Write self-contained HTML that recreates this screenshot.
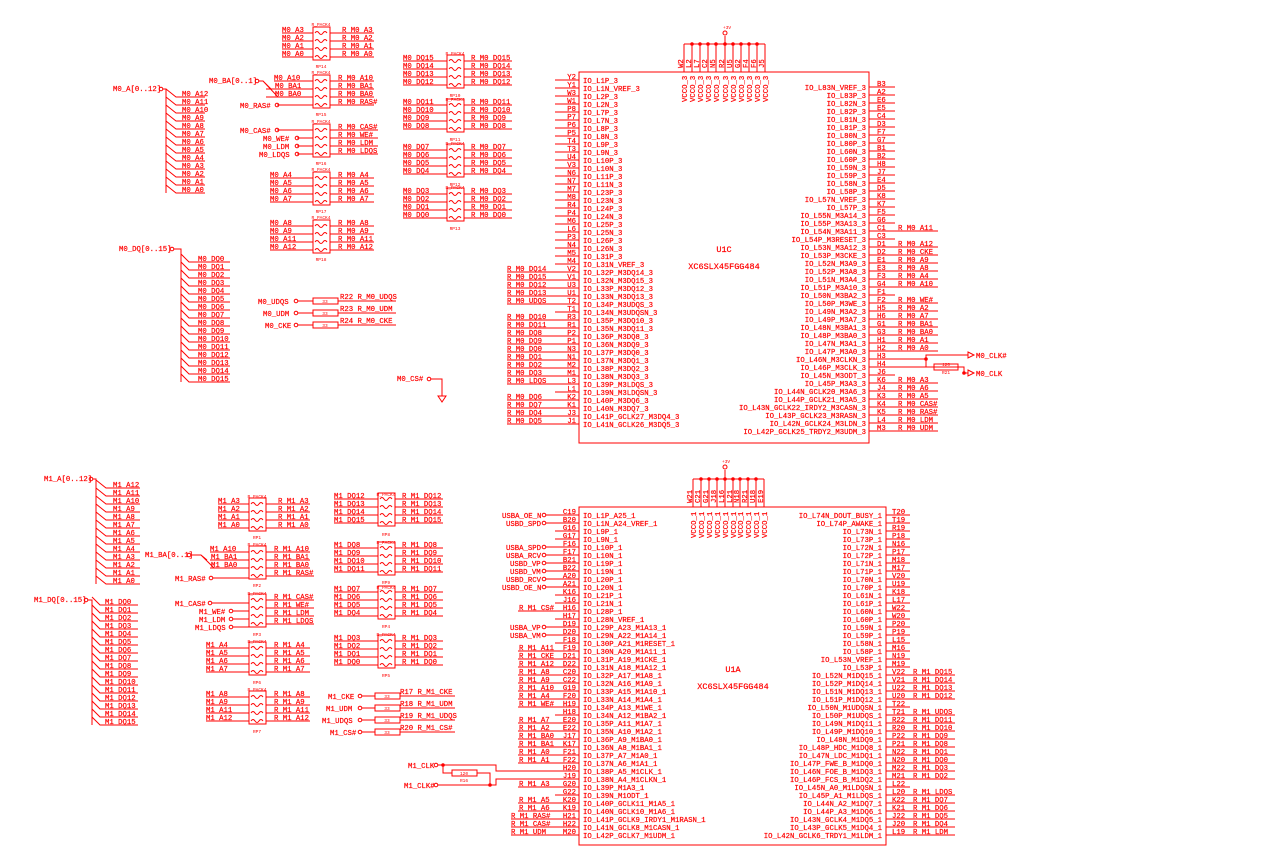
<!DOCTYPE html>
<html><head><meta charset="utf-8"><style>
html,body{margin:0;padding:0;background:#fff;}
svg{display:block}
text{font-family:"Liberation Mono",monospace;font-size:7.3px;fill:#f00;stroke:#f00;stroke-width:0.2}
.s{font-size:4.5px;stroke-width:0}
.e{text-anchor:end}
.m{text-anchor:middle}
path,line,rect,circle,polyline{stroke:#f00;stroke-width:1;fill:none}
.d{fill:#f00}
</style></head><body>
<svg width="1280" height="850" viewBox="0 0 1280 850" xmlns="http://www.w3.org/2000/svg">
<defs>
<g id="rp"><rect x="0" y="-3" width="17" height="33"/><path d="M2 3 q2-3 4 0 q2 3 4 0 q2-3 4 0 M2 11 q2-3 4 0 q2 3 4 0 q2-3 4 0 M2 19 q2-3 4 0 q2 3 4 0 q2-3 4 0 M2 27 q2-3 4 0 q2 3 4 0 q2-3 4 0"/></g>
</defs>

<!-- ================= M0 bus A ================= -->
<text x="113" y="91">M0_A[0..12]</text><circle cx="161" cy="89" r="1.8"/>
<path d="M163 89H166V193"/>
<path d="M166 89l10 8H205M166 97l10 8H205M166 105l10 8H205M166 113l10 8H205M166 121l10 8H205M166 129l10 8H205M166 137l10 8H205M166 145l10 8H205M166 153l10 8H205M166 161l10 8H205M166 169l10 8H205M166 177l10 8H205M166 185l10 8H205"/>
<text x="182" y="96">M0_A12</text><text x="182" y="104">M0_A11</text><text x="182" y="112">M0_A10</text><text x="182" y="120">M0_A9</text><text x="182" y="128">M0_A8</text><text x="182" y="136">M0_A7</text><text x="182" y="144">M0_A6</text><text x="182" y="152">M0_A5</text><text x="182" y="160">M0_A4</text><text x="182" y="168">M0_A3</text><text x="182" y="176">M0_A2</text><text x="182" y="184">M0_A1</text><text x="182" y="192">M0_A0</text>

<!-- M0 DQ bus -->
<text x="119" y="251">M0_DQ[0..15]</text><circle cx="172" cy="249" r="1.8"/>
<path d="M174 249H181V382"/>
<path d="M181 254l8 8H230M181 262l8 8H230M181 270l8 8H230M181 278l8 8H230M181 286l8 8H230M181 294l8 8H230M181 302l8 8H230M181 310l8 8H230M181 318l8 8H230M181 326l8 8H230M181 334l8 8H230M181 342l8 8H230M181 350l8 8H230M181 358l8 8H230M181 366l8 8H230M181 374l8 8H230"/>
<text x="198" y="261">M0_DQ0</text><text x="198" y="269">M0_DQ1</text><text x="198" y="277">M0_DQ2</text><text x="198" y="285">M0_DQ3</text><text x="198" y="293">M0_DQ4</text><text x="198" y="301">M0_DQ5</text><text x="198" y="309">M0_DQ6</text><text x="198" y="317">M0_DQ7</text><text x="198" y="325">M0_DQ8</text><text x="198" y="333">M0_DQ9</text><text x="198" y="341">M0_DQ10</text><text x="198" y="349">M0_DQ11</text><text x="198" y="357">M0_DQ12</text><text x="198" y="365">M0_DQ13</text><text x="198" y="373">M0_DQ14</text><text x="198" y="381">M0_DQ15</text>

<!-- RP14 -->
<use href="#rp" x="313" y="30"/><text class="s m" x="321" y="26">R_PACK4</text><text class="s m" x="321" y="68">RP14</text>
<path d="M282 33H313M282 41H313M282 49H313M282 57H313M330 33H374M330 41H374M330 49H374M330 57H374"/>
<text x="282" y="32">M0_A3</text><text x="282" y="40">M0_A2</text><text x="282" y="48">M0_A1</text><text x="282" y="56">M0_A0</text>
<text x="342" y="32">R_M0_A3</text><text x="342" y="40">R_M0_A2</text><text x="342" y="48">R_M0_A1</text><text x="342" y="56">R_M0_A0</text>
<!-- RP15 -->
<use href="#rp" x="313" y="78"/><text class="s m" x="321" y="74">R_PACK4</text><text class="s m" x="321" y="116">RP15</text>
<path d="M274 81H313M266 89H313M266 97H313M277 105H313M330 81H374M330 89H374M330 97H374M330 105H374M259 81H263L278 97M263 81l8 8"/>
<text x="209" y="83">M0_BA[0..1]</text><circle cx="257" cy="81" r="1.8"/>
<text x="274" y="80">M0_A10</text><text x="275" y="88">M0_BA1</text><text x="275" y="96">M0_BA0</text>
<text x="240" y="108">M0_RAS#</text><circle cx="277" cy="105" r="1.8"/>
<text x="338" y="80">R_M0_A10</text><text x="338" y="88">R_M0_BA1</text><text x="338" y="96">R_M0_BA0</text><text x="338" y="104">R_M0_RAS#</text>
<!-- RP16 -->
<use href="#rp" x="313" y="127"/><text class="s m" x="321" y="123">R_PACK4</text><text class="s m" x="321" y="165">RP16</text>
<path d="M277 130H313M297 138H313M297 146H313M297 154H313M330 130H378M330 138H378M330 146H378M330 154H378"/>
<text x="240" y="133">M0_CAS#</text><circle cx="277" cy="130" r="1.8"/>
<text x="263" y="141">M0_WE#</text><circle cx="297" cy="138" r="1.8"/>
<text x="263" y="149">M0_LDM</text><circle cx="297" cy="146" r="1.8"/>
<text x="259" y="157">M0_LDQS</text><circle cx="297" cy="154" r="1.8"/>
<text x="338" y="129">R_M0_CAS#</text><text x="338" y="137">R_M0_WE#</text><text x="338" y="145">R_M0_LDM</text><text x="338" y="153">R_M0_LDQS</text>
<!-- RP17 -->
<use href="#rp" x="313" y="175"/><text class="s m" x="321" y="171">R_PACK4</text><text class="s m" x="321" y="213">RP17</text>
<path d="M270 178H313M270 186H313M270 194H313M270 202H313M330 178H374M330 186H374M330 194H374M330 202H374"/>
<text x="270" y="177">M0_A4</text><text x="270" y="185">M0_A5</text><text x="270" y="193">M0_A6</text><text x="270" y="201">M0_A7</text>
<text x="338" y="177">R_M0_A4</text><text x="338" y="185">R_M0_A5</text><text x="338" y="193">R_M0_A6</text><text x="338" y="201">R_M0_A7</text>
<!-- RP18 -->
<use href="#rp" x="313" y="223"/><text class="s m" x="321" y="219">R_PACK4</text><text class="s m" x="321" y="261">RP18</text>
<path d="M270 226H313M270 234H313M270 242H313M270 250H313M330 226H374M330 234H374M330 242H374M330 250H374"/>
<text x="270" y="225">M0_A8</text><text x="270" y="233">M0_A9</text><text x="270" y="241">M0_A11</text><text x="270" y="249">M0_A12</text>
<text x="338" y="225">R_M0_A8</text><text x="338" y="233">R_M0_A9</text><text x="338" y="241">R_M0_A11</text><text x="338" y="249">R_M0_A12</text>

<!-- RP10..RP13 -->
<use href="#rp" x="447" y="58"/><text class="s m" x="455" y="55">R_PACK4</text><text class="s m" x="455" y="97">RP10</text>
<path d="M403 61H447M403 69H447M403 77H447M403 85H447M464 61H512M464 69H512M464 77H512M464 85H512"/>
<text x="403" y="60">M0_DQ15</text><text x="403" y="68">M0_DQ14</text><text x="403" y="76">M0_DQ13</text><text x="403" y="84">M0_DQ12</text>
<text x="471" y="60">R_M0_DQ15</text><text x="471" y="68">R_M0_DQ14</text><text x="471" y="76">R_M0_DQ13</text><text x="471" y="84">R_M0_DQ12</text>
<use href="#rp" x="447" y="102"/><text class="s m" x="455" y="101">R_PACK4</text><text class="s m" x="455" y="141">RP11</text>
<path d="M403 105H447M403 113H447M403 121H447M403 129H447M464 105H512M464 113H512M464 121H512M464 129H512"/>
<text x="403" y="104">M0_DQ11</text><text x="403" y="112">M0_DQ10</text><text x="403" y="120">M0_DQ9</text><text x="403" y="128">M0_DQ8</text>
<text x="471" y="104">R_M0_DQ11</text><text x="471" y="112">R_M0_DQ10</text><text x="471" y="120">R_M0_DQ9</text><text x="471" y="128">R_M0_DQ8</text>
<use href="#rp" x="447" y="147"/><text class="s m" x="455" y="145">R_PACK4</text><text class="s m" x="455" y="186">RP12</text>
<path d="M403 150H447M403 158H447M403 166H447M403 174H447M464 150H512M464 158H512M464 166H512M464 174H512"/>
<text x="403" y="149">M0_DQ7</text><text x="403" y="157">M0_DQ6</text><text x="403" y="165">M0_DQ5</text><text x="403" y="173">M0_DQ4</text>
<text x="471" y="149">R_M0_DQ7</text><text x="471" y="157">R_M0_DQ6</text><text x="471" y="165">R_M0_DQ5</text><text x="471" y="173">R_M0_DQ4</text>
<use href="#rp" x="447" y="191"/><text class="s m" x="455" y="189">R_PACK4</text><text class="s m" x="455" y="230">RP13</text>
<path d="M403 194H447M403 202H447M403 210H447M403 218H447M464 194H512M464 202H512M464 210H512M464 218H512"/>
<text x="403" y="193">M0_DQ3</text><text x="403" y="201">M0_DQ2</text><text x="403" y="209">M0_DQ1</text><text x="403" y="217">M0_DQ0</text>
<text x="471" y="193">R_M0_DQ3</text><text x="471" y="201">R_M0_DQ2</text><text x="471" y="209">R_M0_DQ1</text><text x="471" y="217">R_M0_DQ0</text>

<!-- R22-24 -->
<path d="M298 301H313M338 301H396M298 313H313M338 313H396M298 325H313M338 325H396"/>
<rect x="313" y="298" width="25" height="6"/><rect x="313" y="310" width="25" height="6"/><rect x="313" y="322" width="25" height="6"/>
<text class="s m" x="325" y="303">33</text><text class="s m" x="325" y="315">33</text><text class="s m" x="325" y="327">33</text>
<text x="258" y="304">M0_UDQS</text><circle cx="296" cy="301" r="1.8"/>
<text x="263" y="316">M0_UDM</text><circle cx="296" cy="313" r="1.8"/>
<text x="265" y="328">M0_CKE</text><circle cx="296" cy="325" r="1.8"/>
<text x="340" y="299">R22 R_M0_UDQS</text><text x="340" y="311">R23 R_M0_UDM</text><text x="340" y="323">R24 R_M0_CKE</text>
<text x="397" y="381">M0_CS#</text><circle cx="429" cy="379" r="1.8"/>
<path d="M431 379H442V396M438 396H446L442 402Z"/>

<!-- ================= U1C ================= -->
<rect x="579" y="72" width="290" height="371"/>
<path d="M684 44H765M684 44V72M692 44V72M700 44V72M708 44V72M716 44V72M725 44V72M733 44V72M741 44V72M749 44V72M757 44V72M765 44V72M725 44V36"/>
<circle cx="725" cy="33" r="2"/><text class="s" x="723" y="29">+3V</text>
<circle class="d" cx="692" cy="44" r="1.3"/><circle class="d" cx="700" cy="44" r="1.3"/><circle class="d" cx="708" cy="44" r="1.3"/><circle class="d" cx="716" cy="44" r="1.3"/><circle class="d" cx="725" cy="44" r="1.3"/><circle class="d" cx="733" cy="44" r="1.3"/><circle class="d" cx="741" cy="44" r="1.3"/><circle class="d" cx="749" cy="44" r="1.3"/><circle class="d" cx="757" cy="44" r="1.3"/>
<text transform="translate(683,68) rotate(-90)">W2</text><text transform="translate(691,68) rotate(-90)">L2</text><text transform="translate(699,68) rotate(-90)">L7</text><text transform="translate(707,68) rotate(-90)">C2</text><text transform="translate(715,68) rotate(-90)">N5</text><text transform="translate(724,68) rotate(-90)">R2</text><text transform="translate(732,68) rotate(-90)">U5</text><text transform="translate(740,68) rotate(-90)">G2</text><text transform="translate(748,68) rotate(-90)">F4</text><text transform="translate(756,68) rotate(-90)">F6</text><text transform="translate(764,68) rotate(-90)">J5</text>
<text transform="translate(687,102) rotate(-90)">VCCO_3</text><text transform="translate(695,102) rotate(-90)">VCCO_3</text><text transform="translate(703,102) rotate(-90)">VCCO_3</text><text transform="translate(711,102) rotate(-90)">VCCO_3</text><text transform="translate(719,102) rotate(-90)">VCCO_3</text><text transform="translate(728,102) rotate(-90)">VCCO_3</text><text transform="translate(736,102) rotate(-90)">VCCO_3</text><text transform="translate(744,102) rotate(-90)">VCCO_3</text><text transform="translate(752,102) rotate(-90)">VCCO_3</text><text transform="translate(760,102) rotate(-90)">VCCO_3</text><text transform="translate(768,102) rotate(-90)">VCCO_3</text>
<text class="m" x="724" y="252" style="font-size:8.5px">U1C</text><text class="m" x="724" y="269" style="font-size:8.5px">XC6SLX45FGG484</text>

<!-- U1C left pins -->
<path d="M555 80H579M555 88H579M555 96H579M555 104H579M555 112H579M555 120H579M555 128H579M555 136H579M555 144H579M555 152H579M555 160H579M555 168H579M555 176H579M555 184H579M555 192H579M555 200H579M555 208H579M555 216H579M555 224H579M555 232H579M555 240H579M555 248H579M555 256H579M555 264H579M507 272H579M507 280H579M507 288H579M507 296H579M507 304H579M555 312H579M507 320H579M507 328H579M507 336H579M507 344H579M507 352H579M507 360H579M507 368H579M507 376H579M507 384H579M555 392H579M507 400H579M507 408H579M507 416H579M507 424H579"/>
<text class="e" x="576" y="79">Y2</text><text class="e" x="576" y="87">Y1</text><text class="e" x="576" y="95">W3</text><text class="e" x="576" y="103">W1</text><text class="e" x="576" y="111">P8</text><text class="e" x="576" y="119">P7</text><text class="e" x="576" y="127">P6</text><text class="e" x="576" y="135">P5</text><text class="e" x="576" y="143">T4</text><text class="e" x="576" y="151">T3</text><text class="e" x="576" y="159">U4</text><text class="e" x="576" y="167">V3</text><text class="e" x="576" y="175">N6</text><text class="e" x="576" y="183">N7</text><text class="e" x="576" y="191">M7</text><text class="e" x="576" y="199">M8</text><text class="e" x="576" y="207">R4</text><text class="e" x="576" y="215">P4</text><text class="e" x="576" y="223">M6</text><text class="e" x="576" y="231">L6</text><text class="e" x="576" y="239">P3</text><text class="e" x="576" y="247">N4</text><text class="e" x="576" y="255">M5</text><text class="e" x="576" y="263">M4</text><text class="e" x="576" y="271">V2</text><text class="e" x="576" y="279">V1</text><text class="e" x="576" y="287">U3</text><text class="e" x="576" y="295">U1</text><text class="e" x="576" y="303">T2</text><text class="e" x="576" y="311">T1</text><text class="e" x="576" y="319">R3</text><text class="e" x="576" y="327">R1</text><text class="e" x="576" y="335">P2</text><text class="e" x="576" y="343">P1</text><text class="e" x="576" y="351">N3</text><text class="e" x="576" y="359">N1</text><text class="e" x="576" y="367">M2</text><text class="e" x="576" y="375">M1</text><text class="e" x="576" y="383">L3</text><text class="e" x="576" y="391">L1</text><text class="e" x="576" y="399">K2</text><text class="e" x="576" y="407">K1</text><text class="e" x="576" y="415">J3</text><text class="e" x="576" y="423">J1</text>
<text x="583" y="83">IO_L1P_3</text><text x="583" y="91">IO_L1N_VREF_3</text><text x="583" y="99">IO_L2P_3</text><text x="583" y="107">IO_L2N_3</text><text x="583" y="115">IO_L7P_3</text><text x="583" y="123">IO_L7N_3</text><text x="583" y="131">IO_L8P_3</text><text x="583" y="139">IO_L8N_3</text><text x="583" y="147">IO_L9P_3</text><text x="583" y="155">IO_L9N_3</text><text x="583" y="163">IO_L10P_3</text><text x="583" y="171">IO_L10N_3</text><text x="583" y="179">IO_L11P_3</text><text x="583" y="187">IO_L11N_3</text><text x="583" y="195">IO_L23P_3</text><text x="583" y="203">IO_L23N_3</text><text x="583" y="211">IO_L24P_3</text><text x="583" y="219">IO_L24N_3</text><text x="583" y="227">IO_L25P_3</text><text x="583" y="235">IO_L25N_3</text><text x="583" y="243">IO_L26P_3</text><text x="583" y="251">IO_L26N_3</text><text x="583" y="259">IO_L31P_3</text><text x="583" y="267">IO_L31N_VREF_3</text><text x="583" y="275">IO_L32P_M3DQ14_3</text><text x="583" y="283">IO_L32N_M3DQ15_3</text><text x="583" y="291">IO_L33P_M3DQ12_3</text><text x="583" y="299">IO_L33N_M3DQ13_3</text><text x="583" y="307">IO_L34P_M3UDQS_3</text><text x="583" y="315">IO_L34N_M3UDQSN_3</text><text x="583" y="323">IO_L35P_M3DQ10_3</text><text x="583" y="331">IO_L35N_M3DQ11_3</text><text x="583" y="339">IO_L36P_M3DQ8_3</text><text x="583" y="347">IO_L36N_M3DQ9_3</text><text x="583" y="355">IO_L37P_M3DQ0_3</text><text x="583" y="363">IO_L37N_M3DQ1_3</text><text x="583" y="371">IO_L38P_M3DQ2_3</text><text x="583" y="379">IO_L38N_M3DQ3_3</text><text x="583" y="387">IO_L39P_M3LDQS_3</text><text x="583" y="395">IO_L39N_M3LDQSN_3</text><text x="583" y="403">IO_L40P_M3DQ6_3</text><text x="583" y="411">IO_L40N_M3DQ7_3</text><text x="583" y="419">IO_L41P_GCLK27_M3DQ4_3</text><text x="583" y="427">IO_L41N_GCLK26_M3DQ5_3</text>
<text x="507" y="271">R_M0_DQ14</text><text x="507" y="279">R_M0_DQ15</text><text x="507" y="287">R_M0_DQ12</text><text x="507" y="295">R_M0_DQ13</text><text x="507" y="303">R_M0_UDQS</text><text x="507" y="319">R_M0_DQ10</text><text x="507" y="327">R_M0_DQ11</text><text x="507" y="335">R_M0_DQ8</text><text x="507" y="343">R_M0_DQ9</text><text x="507" y="351">R_M0_DQ0</text><text x="507" y="359">R_M0_DQ1</text><text x="507" y="367">R_M0_DQ2</text><text x="507" y="375">R_M0_DQ3</text><text x="507" y="383">R_M0_LDQS</text><text x="507" y="399">R_M0_DQ6</text><text x="507" y="407">R_M0_DQ7</text><text x="507" y="415">R_M0_DQ4</text><text x="507" y="423">R_M0_DQ5</text>

<!-- U1C right pins -->
<path d="M869 87H895M869 95H895M869 103H895M869 111H895M869 119H895M869 127H895M869 135H895M869 143H895M869 151H895M869 159H895M869 167H895M869 175H895M869 183H895M869 191H895M869 199H895M869 207H895M869 215H895M869 223H895M869 231H938M869 239H895M869 247H938M869 255H938M869 263H938M869 271H938M869 279H938M869 287H938M869 295H895M869 303H938M869 311H938M869 319H938M869 327H938M869 335H938M869 343H938M869 351H938M869 359H926V355H968M869 367H964V373H968M869 375H895M869 383H938M869 391H938M869 399H938M869 407H938M869 415H938M869 423H938M869 431H938"/>
<path d="M926 359V367H934M958 367H964"/><rect x="934" y="364" width="24" height="6"/><text class="s m" x="946" y="366">120</text><text class="s m" x="946" y="374">R21</text>
<circle class="d" cx="926" cy="359" r="1.3"/><circle class="d" cx="964" cy="373" r="1.3"/>
<path d="M968 352L974 355L968 358ZM968 370L974 373L968 376Z"/>
<text x="976" y="358">M0_CLK#</text><text x="976" y="376">M0_CLK</text>
<text x="877" y="86">B3</text><text x="877" y="94">A2</text><text x="877" y="102">E6</text><text x="877" y="110">E5</text><text x="877" y="118">C4</text><text x="877" y="126">D3</text><text x="877" y="134">F7</text><text x="877" y="142">G7</text><text x="877" y="150">B1</text><text x="877" y="158">B2</text><text x="877" y="166">H8</text><text x="877" y="174">J7</text><text x="877" y="182">E4</text><text x="877" y="190">D5</text><text x="877" y="198">K8</text><text x="877" y="206">K7</text><text x="877" y="214">F5</text><text x="877" y="222">G6</text><text x="877" y="230">C1</text><text x="877" y="238">C3</text><text x="877" y="246">D1</text><text x="877" y="254">D2</text><text x="877" y="262">E1</text><text x="877" y="270">E3</text><text x="877" y="278">F3</text><text x="877" y="286">G4</text><text x="877" y="294">F1</text><text x="877" y="302">F2</text><text x="877" y="310">H5</text><text x="877" y="318">H6</text><text x="877" y="326">G1</text><text x="877" y="334">G3</text><text x="877" y="342">H1</text><text x="877" y="350">H2</text><text x="877" y="358">H3</text><text x="877" y="366">H4</text><text x="877" y="374">J6</text><text x="877" y="382">K6</text><text x="877" y="390">J4</text><text x="877" y="398">K3</text><text x="877" y="406">K4</text><text x="877" y="414">K5</text><text x="877" y="422">L4</text><text x="877" y="430">M3</text>
<text class="e" x="866" y="90">IO_L83N_VREF_3</text><text class="e" x="866" y="98">IO_L83P_3</text><text class="e" x="866" y="106">IO_L82N_3</text><text class="e" x="866" y="114">IO_L82P_3</text><text class="e" x="866" y="122">IO_L81N_3</text><text class="e" x="866" y="130">IO_L81P_3</text><text class="e" x="866" y="138">IO_L80N_3</text><text class="e" x="866" y="146">IO_L80P_3</text><text class="e" x="866" y="154">IO_L60N_3</text><text class="e" x="866" y="162">IO_L60P_3</text><text class="e" x="866" y="170">IO_L59N_3</text><text class="e" x="866" y="178">IO_L59P_3</text><text class="e" x="866" y="186">IO_L58N_3</text><text class="e" x="866" y="194">IO_L58P_3</text><text class="e" x="866" y="202">IO_L57N_VREF_3</text><text class="e" x="866" y="210">IO_L57P_3</text><text class="e" x="866" y="218">IO_L55N_M3A14_3</text><text class="e" x="866" y="226">IO_L55P_M3A13_3</text><text class="e" x="866" y="234">IO_L54N_M3A11_3</text><text class="e" x="866" y="242">IO_L54P_M3RESET_3</text><text class="e" x="866" y="250">IO_L53N_M3A12_3</text><text class="e" x="866" y="258">IO_L53P_M3CKE_3</text><text class="e" x="866" y="266">IO_L52N_M3A9_3</text><text class="e" x="866" y="274">IO_L52P_M3A8_3</text><text class="e" x="866" y="282">IO_L51N_M3A4_3</text><text class="e" x="866" y="290">IO_L51P_M3A10_3</text><text class="e" x="866" y="298">IO_L50N_M3BA2_3</text><text class="e" x="866" y="306">IO_L50P_M3WE_3</text><text class="e" x="866" y="314">IO_L49N_M3A2_3</text><text class="e" x="866" y="322">IO_L49P_M3A7_3</text><text class="e" x="866" y="330">IO_L48N_M3BA1_3</text><text class="e" x="866" y="338">IO_L48P_M3BA0_3</text><text class="e" x="866" y="346">IO_L47N_M3A1_3</text><text class="e" x="866" y="354">IO_L47P_M3A0_3</text><text class="e" x="866" y="362">IO_L46N_M3CLKN_3</text><text class="e" x="866" y="370">IO_L46P_M3CLK_3</text><text class="e" x="866" y="378">IO_L45N_M3ODT_3</text><text class="e" x="866" y="386">IO_L45P_M3A3_3</text><text class="e" x="866" y="394">IO_L44N_GCLK20_M3A6_3</text><text class="e" x="866" y="402">IO_L44P_GCLK21_M3A5_3</text><text class="e" x="866" y="410">IO_L43N_GCLK22_IRDY2_M3CASN_3</text><text class="e" x="866" y="418">IO_L43P_GCLK23_M3RASN_3</text><text class="e" x="866" y="426">IO_L42N_GCLK24_M3LDN_3</text><text class="e" x="866" y="434">IO_L42P_GCLK25_TRDY2_M3UDM_3</text>
<text x="898" y="230">R_M0_A11</text><text x="898" y="246">R_M0_A12</text><text x="898" y="254">R_M0_CKE</text><text x="898" y="262">R_M0_A9</text><text x="898" y="270">R_M0_A8</text><text x="898" y="278">R_M0_A4</text><text x="898" y="286">R_M0_A10</text><text x="898" y="302">R_M0_WE#</text><text x="898" y="310">R_M0_A2</text><text x="898" y="318">R_M0_A7</text><text x="898" y="326">R_M0_BA1</text><text x="898" y="334">R_M0_BA0</text><text x="898" y="342">R_M0_A1</text><text x="898" y="350">R_M0_A0</text><text x="898" y="382">R_M0_A3</text><text x="898" y="390">R_M0_A6</text><text x="898" y="398">R_M0_A5</text><text x="898" y="406">R_M0_CAS#</text><text x="898" y="414">R_M0_RAS#</text><text x="898" y="422">R_M0_LDM</text><text x="898" y="430">R_M0_UDM</text>

<!-- ================= M1 left ================= -->
<text x="44" y="481">M1_A[0..12]</text><circle cx="91" cy="479" r="1.8"/>
<path d="M93 479H96V584"/>
<path d="M96 480l10 8H140M96 488l10 8H140M96 496l10 8H140M96 504l10 8H140M96 512l10 8H140M96 520l10 8H140M96 528l10 8H140M96 536l10 8H140M96 544l10 8H140M96 552l10 8H140M96 560l10 8H140M96 568l10 8H140M96 576l10 8H140"/>
<text x="113" y="487">M1_A12</text><text x="113" y="495">M1_A11</text><text x="113" y="503">M1_A10</text><text x="113" y="511">M1_A9</text><text x="113" y="519">M1_A8</text><text x="113" y="527">M1_A7</text><text x="113" y="535">M1_A6</text><text x="113" y="543">M1_A5</text><text x="113" y="551">M1_A4</text><text x="113" y="559">M1_A3</text><text x="113" y="567">M1_A2</text><text x="113" y="575">M1_A1</text><text x="113" y="583">M1_A0</text>
<text x="34" y="602">M1_DQ[0..15]</text><circle cx="86" cy="600" r="1.8"/>
<path d="M88 600H92V725"/>
<path d="M92 597l8 8H138M92 605l8 8H138M92 613l8 8H138M92 621l8 8H138M92 629l8 8H138M92 637l8 8H138M92 645l8 8H138M92 653l8 8H138M92 661l8 8H138M92 669l8 8H138M92 677l8 8H138M92 685l8 8H138M92 693l8 8H138M92 701l8 8H138M92 709l8 8H138M92 717l8 8H138"/>
<text x="105" y="604">M1_DQ0</text><text x="105" y="612">M1_DQ1</text><text x="105" y="620">M1_DQ2</text><text x="105" y="628">M1_DQ3</text><text x="105" y="636">M1_DQ4</text><text x="105" y="644">M1_DQ5</text><text x="105" y="652">M1_DQ6</text><text x="105" y="660">M1_DQ7</text><text x="105" y="668">M1_DQ8</text><text x="105" y="676">M1_DQ9</text><text x="105" y="684">M1_DQ10</text><text x="105" y="692">M1_DQ11</text><text x="105" y="700">M1_DQ12</text><text x="105" y="708">M1_DQ13</text><text x="105" y="716">M1_DQ14</text><text x="105" y="724">M1_DQ15</text>

<!-- RP1 -->
<use href="#rp" x="249" y="501"/><text class="s m" x="257" y="498">R_PACK4</text><text class="s m" x="257" y="539">RP1</text>
<path d="M218 504H249M218 512H249M218 520H249M218 528H249M266 504H310M266 512H310M266 520H310M266 528H310"/>
<text x="218" y="503">M1_A3</text><text x="218" y="511">M1_A2</text><text x="218" y="519">M1_A1</text><text x="218" y="527">M1_A0</text>
<text x="278" y="503">R_M1_A3</text><text x="278" y="511">R_M1_A2</text><text x="278" y="519">R_M1_A1</text><text x="278" y="527">R_M1_A0</text>
<!-- RP2 -->
<use href="#rp" x="249" y="549"/><text class="s m" x="257" y="546">R_PACK4</text><text class="s m" x="257" y="587">RP2</text>
<path d="M210 552H249M210 560H249M210 568H249M213 578H249M266 552H310M266 560H310M266 568H310M266 576H314M191 555H201L214 568M201 555l6 5"/>
<text x="145" y="557">M1_BA[0..1]</text><circle cx="189" cy="555" r="1.8"/>
<text x="210" y="551">M1_A10</text><text x="211" y="559">M1_BA1</text><text x="211" y="567">M1_BA0</text>
<text x="175" y="581">M1_RAS#</text><circle cx="211" cy="578" r="1.8"/>
<text x="274" y="551">R_M1_A10</text><text x="274" y="559">R_M1_BA1</text><text x="274" y="567">R_M1_BA0</text><text x="274" y="575">R_M1_RAS#</text>
<!-- RP3 -->
<use href="#rp" x="249" y="597"/><text class="s m" x="257" y="595">R_PACK4</text><text class="s m" x="257" y="636">RP3</text>
<path d="M212 603H249M233 611H249M233 619H249M233 627H249M266 600H314M266 608H314M266 616H314M266 624H314"/>
<text x="175" y="606">M1_CAS#</text><circle cx="210" cy="603" r="1.8"/>
<text x="199" y="614">M1_WE#</text><circle cx="231" cy="611" r="1.8"/>
<text x="199" y="622">M1_LDM</text><circle cx="231" cy="619" r="1.8"/>
<text x="195" y="630">M1_LDQS</text><circle cx="231" cy="627" r="1.8"/>
<text x="274" y="599">R_M1_CAS#</text><text x="274" y="607">R_M1_WE#</text><text x="274" y="615">R_M1_LDM</text><text x="274" y="623">R_M1_LDQS</text>
<!-- RP6 -->
<use href="#rp" x="249" y="645"/><text class="s m" x="257" y="643">R_PACK4</text><text class="s m" x="257" y="684">RP6</text>
<path d="M206 648H249M206 656H249M206 664H249M206 672H249M266 648H310M266 656H310M266 664H310M266 672H310"/>
<text x="206" y="647">M1_A4</text><text x="206" y="655">M1_A5</text><text x="206" y="663">M1_A6</text><text x="206" y="671">M1_A7</text>
<text x="274" y="647">R_M1_A4</text><text x="274" y="655">R_M1_A5</text><text x="274" y="663">R_M1_A6</text><text x="274" y="671">R_M1_A7</text>
<!-- RP7 -->
<use href="#rp" x="249" y="694"/><text class="s m" x="257" y="691">R_PACK4</text><text class="s m" x="257" y="733">RP7</text>
<path d="M206 697H249M206 705H249M206 713H249M206 721H249M266 697H310M266 705H310M266 713H310M266 721H310"/>
<text x="206" y="696">M1_A8</text><text x="206" y="704">M1_A9</text><text x="206" y="712">M1_A11</text><text x="206" y="720">M1_A12</text>
<text x="274" y="696">R_M1_A8</text><text x="274" y="704">R_M1_A9</text><text x="274" y="712">R_M1_A11</text><text x="274" y="720">R_M1_A12</text>

<!-- RP8,9,4,5 -->
<use href="#rp" x="378" y="496"/><text class="s m" x="386" y="496">R_PACK4</text><text class="s m" x="386" y="536">RP8</text>
<path d="M334 499H378M334 507H378M334 515H378M334 523H378M395 499H443M395 507H443M395 515H443M395 523H443"/>
<text x="334" y="498">M1_DQ12</text><text x="334" y="506">M1_DQ13</text><text x="334" y="514">M1_DQ14</text><text x="334" y="522">M1_DQ15</text>
<text x="402" y="498">R_M1_DQ12</text><text x="402" y="506">R_M1_DQ13</text><text x="402" y="514">R_M1_DQ14</text><text x="402" y="522">R_M1_DQ15</text>
<use href="#rp" x="378" y="545"/><text class="s m" x="386" y="544">R_PACK4</text><text class="s m" x="386" y="584">RP9</text>
<path d="M334 548H378M334 556H378M334 564H378M334 572H378M395 548H443M395 556H443M395 564H443M395 572H443"/>
<text x="334" y="547">M1_DQ8</text><text x="334" y="555">M1_DQ9</text><text x="334" y="563">M1_DQ10</text><text x="334" y="571">M1_DQ11</text>
<text x="402" y="547">R_M1_DQ8</text><text x="402" y="555">R_M1_DQ9</text><text x="402" y="563">R_M1_DQ10</text><text x="402" y="571">R_M1_DQ11</text>
<use href="#rp" x="378" y="589"/><text class="s m" x="386" y="589">R_PACK4</text><text class="s m" x="386" y="628">RP4</text>
<path d="M334 592H378M334 600H378M334 608H378M334 616H378M395 592H443M395 600H443M395 608H443M395 616H443"/>
<text x="334" y="591">M1_DQ7</text><text x="334" y="599">M1_DQ6</text><text x="334" y="607">M1_DQ5</text><text x="334" y="615">M1_DQ4</text>
<text x="402" y="591">R_M1_DQ7</text><text x="402" y="599">R_M1_DQ6</text><text x="402" y="607">R_M1_DQ5</text><text x="402" y="615">R_M1_DQ4</text>
<use href="#rp" x="378" y="638"/><text class="s m" x="386" y="636">R_PACK4</text><text class="s m" x="386" y="677">RP5</text>
<path d="M334 641H378M334 649H378M334 657H378M334 665H378M395 641H443M395 649H443M395 657H443M395 665H443"/>
<text x="334" y="640">M1_DQ3</text><text x="334" y="648">M1_DQ2</text><text x="334" y="656">M1_DQ1</text><text x="334" y="664">M1_DQ0</text>
<text x="402" y="640">R_M1_DQ3</text><text x="402" y="648">R_M1_DQ2</text><text x="402" y="656">R_M1_DQ1</text><text x="402" y="664">R_M1_DQ0</text>
<!-- R17-20 -->
<path d="M362 696H375M400 696H455M362 708H375M400 708H455M362 720H375M400 720H455M362 732H375M400 732H455"/>
<rect x="375" y="693" width="25" height="6"/><rect x="375" y="705" width="25" height="6"/><rect x="375" y="717" width="25" height="6"/><rect x="375" y="729" width="25" height="6"/>
<text class="s m" x="387" y="698">33</text><text class="s m" x="387" y="710">33</text><text class="s m" x="387" y="722">33</text><text class="s m" x="387" y="734">33</text>
<text x="328" y="699">M1_CKE</text><circle cx="360" cy="696" r="1.8"/>
<text x="326" y="711">M1_UDM</text><circle cx="360" cy="708" r="1.8"/>
<text x="322" y="723">M1_UDQS</text><circle cx="360" cy="720" r="1.8"/>
<text x="330" y="735">M1_CS#</text><circle cx="360" cy="732" r="1.8"/>
<text x="400" y="694">R17 R_M1_CKE</text><text x="400" y="706">R18 R_M1_UDM</text><text x="400" y="718">R19 R_M1_UDQS</text><text x="400" y="730">R20 R_M1_CS#</text>

<!-- M1 CLK -->
<text x="408" y="768">M1_CLK</text><circle cx="436" cy="765" r="1.8"/>
<text x="404" y="788">M1_CLK#</text><circle cx="436" cy="785" r="1.8"/>
<path d="M438 765H496V771H579M438 785H496V779H579M443 765V773H452M477 773H490V785"/>
<rect x="452" y="770" width="25" height="6"/><text class="s m" x="464" y="775">120</text><text class="s m" x="464" y="782">R16</text>
<circle class="d" cx="443" cy="765" r="1.3"/><circle class="d" cx="490" cy="785" r="1.3"/>

<!-- ================= U1A ================= -->
<rect x="579" y="507" width="307" height="338"/>
<path d="M693 479H764M693 479V507M701 479V507M709 479V507M717 479V507M725 479V507M733 479V507M740 479V507M748 479V507M756 479V507M764 479V507M725 479V470"/>
<circle cx="725" cy="467" r="2"/><text class="s" x="722" y="463">+3V</text>
<circle class="d" cx="701" cy="479" r="1.3"/><circle class="d" cx="709" cy="479" r="1.3"/><circle class="d" cx="717" cy="479" r="1.3"/><circle class="d" cx="725" cy="479" r="1.3"/><circle class="d" cx="733" cy="479" r="1.3"/><circle class="d" cx="740" cy="479" r="1.3"/><circle class="d" cx="748" cy="479" r="1.3"/><circle class="d" cx="756" cy="479" r="1.3"/>
<text transform="translate(692,503) rotate(-90)">W21</text><text transform="translate(700,503) rotate(-90)">C21</text><text transform="translate(708,503) rotate(-90)">G21</text><text transform="translate(716,503) rotate(-90)">J18</text><text transform="translate(724,503) rotate(-90)">L16</text><text transform="translate(732,503) rotate(-90)">L21</text><text transform="translate(739,503) rotate(-90)">N18</text><text transform="translate(747,503) rotate(-90)">R21</text><text transform="translate(755,503) rotate(-90)">U18</text><text transform="translate(763,503) rotate(-90)">E19</text>
<text transform="translate(696,538) rotate(-90)">VCCO_1</text><text transform="translate(704,538) rotate(-90)">VCCO_1</text><text transform="translate(712,538) rotate(-90)">VCCO_1</text><text transform="translate(720,538) rotate(-90)">VCCO_1</text><text transform="translate(728,538) rotate(-90)">VCCO_1</text><text transform="translate(736,538) rotate(-90)">VCCO_1</text><text transform="translate(743,538) rotate(-90)">VCCO_1</text><text transform="translate(751,538) rotate(-90)">VCCO_1</text><text transform="translate(759,538) rotate(-90)">VCCO_1</text><text transform="translate(767,538) rotate(-90)">VCCO_1</text>
<text class="m" x="733" y="672" style="font-size:8.5px">U1A</text><text class="m" x="733" y="689" style="font-size:8.5px">XC6SLX45FGG484</text>

<!-- U1A left -->
<path d="M546 515H579M546 523H579M555 531H579M555 539H579M546 547H579M546 555H579M546 563H579M546 571H579M546 579H579M546 587H579M555 595H579M555 603H579M518 611H579M555 619H579M546 627H579M546 635H579M555 643H579M518 651H579M518 659H579M518 667H579M518 675H579M518 683H579M518 691H579M518 699H579M518 707H579M555 715H579M518 723H579M518 731H579M518 739H579M518 747H579M518 755H579M518 763H579M555 771H579M555 779H579M518 787H579M555 795H579M518 803H579M518 811H579M511 819H579M511 827H579M511 835H579"/>
<text x="502" y="518">USBA_OE_N</text><circle cx="544" cy="515" r="1.8"/>
<text x="506" y="526">USBD_SPD</text><circle cx="544" cy="523" r="1.8"/>
<text x="506" y="550">USBA_SPD</text><circle cx="544" cy="547" r="1.8"/>
<text x="506" y="558">USBA_RCV</text><circle cx="544" cy="555" r="1.8"/>
<text x="510" y="566">USBD_VP</text><circle cx="544" cy="563" r="1.8"/>
<text x="510" y="574">USBD_VM</text><circle cx="544" cy="571" r="1.8"/>
<text x="506" y="582">USBD_RCV</text><circle cx="544" cy="579" r="1.8"/>
<text x="502" y="590">USBD_OE_N</text><circle cx="544" cy="587" r="1.8"/>
<text x="510" y="630">USBA_VP</text><circle cx="544" cy="627" r="1.8"/>
<text x="510" y="638">USBA_VM</text><circle cx="544" cy="635" r="1.8"/>
<text x="519" y="610">R_M1_CS#</text>
<text x="519" y="650">R_M1_A11</text><text x="519" y="658">R_M1_CKE</text><text x="519" y="666">R_M1_A12</text><text x="519" y="674">R_M1_A8</text><text x="519" y="682">R_M1_A9</text><text x="519" y="690">R_M1_A10</text><text x="519" y="698">R_M1_A4</text><text x="519" y="706">R_M1_WE#</text><text x="519" y="722">R_M1_A7</text><text x="519" y="730">R_M1_A2</text><text x="519" y="738">R_M1_BA0</text><text x="519" y="746">R_M1_BA1</text><text x="519" y="754">R_M1_A0</text><text x="519" y="762">R_M1_A1</text><text x="519" y="786">R_M1_A3</text><text x="519" y="802">R_M1_A5</text><text x="519" y="810">R_M1_A6</text><text x="511" y="818">R_M1_RAS#</text><text x="511" y="826">R_M1_CAS#</text><text x="511" y="834">R_M1_UDM</text>
<text class="e" x="576" y="514">C19</text><text class="e" x="576" y="522">B20</text><text class="e" x="576" y="530">G16</text><text class="e" x="576" y="538">G17</text><text class="e" x="576" y="546">F16</text><text class="e" x="576" y="554">F17</text><text class="e" x="576" y="562">B21</text><text class="e" x="576" y="570">B22</text><text class="e" x="576" y="578">A20</text><text class="e" x="576" y="586">A21</text><text class="e" x="576" y="594">K16</text><text class="e" x="576" y="602">J16</text><text class="e" x="576" y="610">H16</text><text class="e" x="576" y="618">H17</text><text class="e" x="576" y="626">D19</text><text class="e" x="576" y="634">D20</text><text class="e" x="576" y="642">F18</text><text class="e" x="576" y="650">F19</text><text class="e" x="576" y="658">D21</text><text class="e" x="576" y="666">D22</text><text class="e" x="576" y="674">C20</text><text class="e" x="576" y="682">C22</text><text class="e" x="576" y="690">G19</text><text class="e" x="576" y="698">F20</text><text class="e" x="576" y="706">H19</text><text class="e" x="576" y="714">H18</text><text class="e" x="576" y="722">E20</text><text class="e" x="576" y="730">E22</text><text class="e" x="576" y="738">J17</text><text class="e" x="576" y="746">K17</text><text class="e" x="576" y="754">F21</text><text class="e" x="576" y="762">F22</text><text class="e" x="576" y="770">H20</text><text class="e" x="576" y="778">J19</text><text class="e" x="576" y="786">G20</text><text class="e" x="576" y="794">G22</text><text class="e" x="576" y="802">K20</text><text class="e" x="576" y="810">K19</text><text class="e" x="576" y="818">H21</text><text class="e" x="576" y="826">H22</text><text class="e" x="576" y="834">M20</text>
<text x="583" y="518">IO_L1P_A25_1</text><text x="583" y="526">IO_L1N_A24_VREF_1</text><text x="583" y="534">IO_L9P_1</text><text x="583" y="542">IO_L9N_1</text><text x="583" y="550">IO_L10P_1</text><text x="583" y="558">IO_L10N_1</text><text x="583" y="566">IO_L19P_1</text><text x="583" y="574">IO_L19N_1</text><text x="583" y="582">IO_L20P_1</text><text x="583" y="590">IO_L20N_1</text><text x="583" y="598">IO_L21P_1</text><text x="583" y="606">IO_L21N_1</text><text x="583" y="614">IO_L28P_1</text><text x="583" y="622">IO_L28N_VREF_1</text><text x="583" y="630">IO_L29P_A23_M1A13_1</text><text x="583" y="638">IO_L29N_A22_M1A14_1</text><text x="583" y="646">IO_L30P_A21_M1RESET_1</text><text x="583" y="654">IO_L30N_A20_M1A11_1</text><text x="583" y="662">IO_L31P_A19_M1CKE_1</text><text x="583" y="670">IO_L31N_A18_M1A12_1</text><text x="583" y="678">IO_L32P_A17_M1A8_1</text><text x="583" y="686">IO_L32N_A16_M1A9_1</text><text x="583" y="694">IO_L33P_A15_M1A10_1</text><text x="583" y="702">IO_L33N_A14_M1A4_1</text><text x="583" y="710">IO_L34P_A13_M1WE_1</text><text x="583" y="718">IO_L34N_A12_M1BA2_1</text><text x="583" y="726">IO_L35P_A11_M1A7_1</text><text x="583" y="734">IO_L35N_A10_M1A2_1</text><text x="583" y="742">IO_L36P_A9_M1BA0_1</text><text x="583" y="750">IO_L36N_A8_M1BA1_1</text><text x="583" y="758">IO_L37P_A7_M1A0_1</text><text x="583" y="766">IO_L37N_A6_M1A1_1</text><text x="583" y="774">IO_L38P_A5_M1CLK_1</text><text x="583" y="782">IO_L38N_A4_M1CLKN_1</text><text x="583" y="790">IO_L39P_M1A3_1</text><text x="583" y="798">IO_L39N_M1ODT_1</text><text x="583" y="806">IO_L40P_GCLK11_M1A5_1</text><text x="583" y="814">IO_L40N_GCLK10_M1A6_1</text><text x="583" y="822">IO_L41P_GCLK9_IRDY1_M1RASN_1</text><text x="583" y="830">IO_L41N_GCLK8_M1CASN_1</text><text x="583" y="838">IO_L42P_GCLK7_M1UDM_1</text>

<!-- U1A right -->
<path d="M886 515H910M886 523H910M886 531H910M886 539H910M886 547H910M886 555H910M886 563H910M886 571H910M886 579H910M886 587H910M886 595H910M886 603H910M886 611H910M886 619H910M886 627H910M886 635H910M886 643H910M886 651H910M886 659H910M886 667H910M886 675H955M886 683H955M886 691H955M886 699H955M886 707H910M886 715H955M886 723H955M886 731H955M886 739H955M886 747H955M886 755H955M886 763H955M886 771H955M886 779H955M886 787H910M886 795H955M886 803H955M886 811H955M886 819H955M886 827H955M886 835H955"/>
<text x="892" y="514">T20</text><text x="892" y="522">T19</text><text x="892" y="530">R19</text><text x="892" y="538">P18</text><text x="892" y="546">N16</text><text x="892" y="554">P17</text><text x="892" y="562">M18</text><text x="892" y="570">M17</text><text x="892" y="578">V20</text><text x="892" y="586">U19</text><text x="892" y="594">K18</text><text x="892" y="602">L17</text><text x="892" y="610">W22</text><text x="892" y="618">W20</text><text x="892" y="626">P20</text><text x="892" y="634">P19</text><text x="892" y="642">L15</text><text x="892" y="650">M16</text><text x="892" y="658">N19</text><text x="892" y="666">M19</text><text x="892" y="674">V22</text><text x="892" y="682">V21</text><text x="892" y="690">U22</text><text x="892" y="698">U20</text><text x="892" y="706">T22</text><text x="892" y="714">T21</text><text x="892" y="722">R22</text><text x="892" y="730">R20</text><text x="892" y="738">P22</text><text x="892" y="746">P21</text><text x="892" y="754">N22</text><text x="892" y="762">N20</text><text x="892" y="770">M22</text><text x="892" y="778">M21</text><text x="892" y="786">L22</text><text x="892" y="794">L20</text><text x="892" y="802">K22</text><text x="892" y="810">K21</text><text x="892" y="818">J22</text><text x="892" y="826">J20</text><text x="892" y="834">L19</text>
<text class="e" x="882" y="518">IO_L74N_DOUT_BUSY_1</text><text class="e" x="882" y="526">IO_L74P_AWAKE_1</text><text class="e" x="882" y="534">IO_L73N_1</text><text class="e" x="882" y="542">IO_L73P_1</text><text class="e" x="882" y="550">IO_L72N_1</text><text class="e" x="882" y="558">IO_L72P_1</text><text class="e" x="882" y="566">IO_L71N_1</text><text class="e" x="882" y="574">IO_L71P_1</text><text class="e" x="882" y="582">IO_L70N_1</text><text class="e" x="882" y="590">IO_L70P_1</text><text class="e" x="882" y="598">IO_L61N_1</text><text class="e" x="882" y="606">IO_L61P_1</text><text class="e" x="882" y="614">IO_L60N_1</text><text class="e" x="882" y="622">IO_L60P_1</text><text class="e" x="882" y="630">IO_L59N_1</text><text class="e" x="882" y="638">IO_L59P_1</text><text class="e" x="882" y="646">IO_L58N_1</text><text class="e" x="882" y="654">IO_L58P_1</text><text class="e" x="882" y="662">IO_L53N_VREF_1</text><text class="e" x="882" y="670">IO_L53P_1</text><text class="e" x="882" y="678">IO_L52N_M1DQ15_1</text><text class="e" x="882" y="686">IO_L52P_M1DQ14_1</text><text class="e" x="882" y="694">IO_L51N_M1DQ13_1</text><text class="e" x="882" y="702">IO_L51P_M1DQ12_1</text><text class="e" x="882" y="710">IO_L50N_M1UDQSN_1</text><text class="e" x="882" y="718">IO_L50P_M1UDQS_1</text><text class="e" x="882" y="726">IO_L49N_M1DQ11_1</text><text class="e" x="882" y="734">IO_L49P_M1DQ10_1</text><text class="e" x="882" y="742">IO_L48N_M1DQ9_1</text><text class="e" x="882" y="750">IO_L48P_HDC_M1DQ8_1</text><text class="e" x="882" y="758">IO_L47N_LDC_M1DQ1_1</text><text class="e" x="882" y="766">IO_L47P_FWE_B_M1DQ0_1</text><text class="e" x="882" y="774">IO_L46N_FOE_B_M1DQ3_1</text><text class="e" x="882" y="782">IO_L46P_FCS_B_M1DQ2_1</text><text class="e" x="882" y="790">IO_L45N_A0_M1LDQSN_1</text><text class="e" x="882" y="798">IO_L45P_A1_M1LDQS_1</text><text class="e" x="882" y="806">IO_L44N_A2_M1DQ7_1</text><text class="e" x="882" y="814">IO_L44P_A3_M1DQ6_1</text><text class="e" x="882" y="822">IO_L43N_GCLK4_M1DQ5_1</text><text class="e" x="882" y="830">IO_L43P_GCLK5_M1DQ4_1</text><text class="e" x="882" y="838">IO_L42N_GCLK6_TRDY1_M1LDM_1</text>
<text x="913" y="674">R_M1_DQ15</text><text x="913" y="682">R_M1_DQ14</text><text x="913" y="690">R_M1_DQ13</text><text x="913" y="698">R_M1_DQ12</text><text x="913" y="714">R_M1_UDQS</text><text x="913" y="722">R_M1_DQ11</text><text x="913" y="730">R_M1_DQ10</text><text x="913" y="738">R_M1_DQ9</text><text x="913" y="746">R_M1_DQ8</text><text x="913" y="754">R_M1_DQ1</text><text x="913" y="762">R_M1_DQ0</text><text x="913" y="770">R_M1_DQ3</text><text x="913" y="778">R_M1_DQ2</text><text x="913" y="794">R_M1_LDQS</text><text x="913" y="802">R_M1_DQ7</text><text x="913" y="810">R_M1_DQ6</text><text x="913" y="818">R_M1_DQ5</text><text x="913" y="826">R_M1_DQ4</text><text x="913" y="834">R_M1_LDM</text>
</svg>
</body></html>
